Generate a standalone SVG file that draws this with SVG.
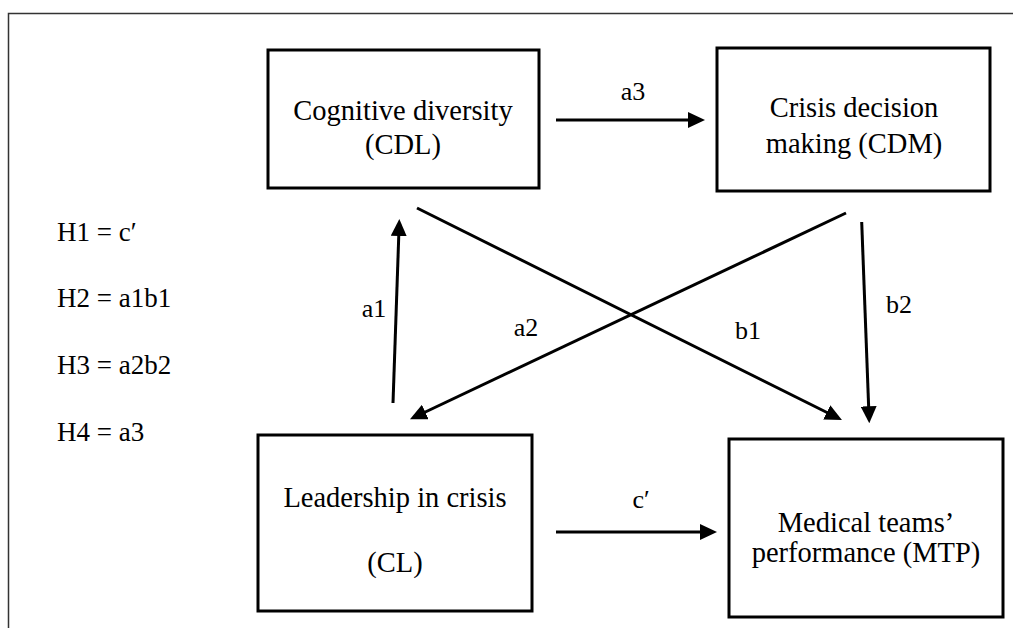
<svg xmlns="http://www.w3.org/2000/svg" width="1013" height="628" viewBox="0 0 1013 628">
<defs>
<style>
.box{fill:#fff;stroke:#000;stroke-width:3}
.t{font-family:"Liberation Serif","Times New Roman",serif;font-size:28.5px;fill:#000;text-anchor:middle}
.h{font-family:"Liberation Serif","Times New Roman",serif;font-size:27px;fill:#000}
.l{font-family:"Liberation Serif","Times New Roman",serif;font-size:26px;fill:#000;text-anchor:middle}
.c{stroke:#000;stroke-width:3;fill:none;marker-end:url(#ah)}
</style>
<marker id="ah" viewBox="0 0 17 16" refX="7" refY="8" markerWidth="17" markerHeight="16" markerUnits="userSpaceOnUse" orient="auto">
<path d="M0,0 L17,8 L0,16 Z" fill="#000"/>
</marker>
</defs>
<rect width="1013" height="628" fill="#fff"/>
<path d="M1013,13.5 H8.5 V628" fill="none" stroke="#333" stroke-width="1.5"/>
<g id="legend">
<text class="h" x="57" y="241">H1 = c′</text>
<text class="h" x="57" y="307">H2 = a1b1</text>
<text class="h" x="57" y="374">H3 = a2b2</text>
<text class="h" x="57" y="441">H4 = a3</text>
</g>
<g id="node-cdl">
<rect class="box" x="268" y="50" width="271" height="138"/>
<text class="t" x="403" y="120">Cognitive diversity</text>
<text class="t" x="403" y="154">(CDL)</text>
</g>
<g id="node-cdm">
<rect class="box" x="717" y="48" width="273" height="143"/>
<text class="t" x="854" y="117">Crisis decision</text>
<text class="t" x="854" y="153">making (CDM)</text>
</g>
<g id="node-cl">
<rect class="box" x="258" y="435" width="274" height="176"/>
<text class="t" x="395" y="507">Leadership in crisis</text>
<text class="t" x="395" y="572">(CL)</text>
</g>
<g id="node-mtp">
<rect class="box" x="729" y="439" width="274" height="178"/>
<text class="t" x="866" y="532">Medical teams’</text>
<text class="t" x="866" y="562">performance (MTP)</text>
</g>
<g id="connectors">
<line class="c" x1="556" y1="120" x2="695" y2="120"/>
<line class="c" x1="556" y1="532" x2="707" y2="532"/>
<line class="c" x1="393" y1="403" x2="399" y2="229"/>
<line class="c" x1="861.7" y1="222" x2="868.9" y2="413.3"/>
<line class="c" x1="417" y1="208" x2="833" y2="415.5"/>
<line class="c" x1="846" y1="213" x2="419" y2="415"/>
<text class="l" x="633" y="100">a3</text>
<text class="l" x="641" y="508">c′</text>
<text class="l" x="374" y="317">a1</text>
<text class="l" x="526" y="336">a2</text>
<text class="l" x="748" y="339">b1</text>
<text class="l" x="899" y="313">b2</text>
</g>
</svg>
